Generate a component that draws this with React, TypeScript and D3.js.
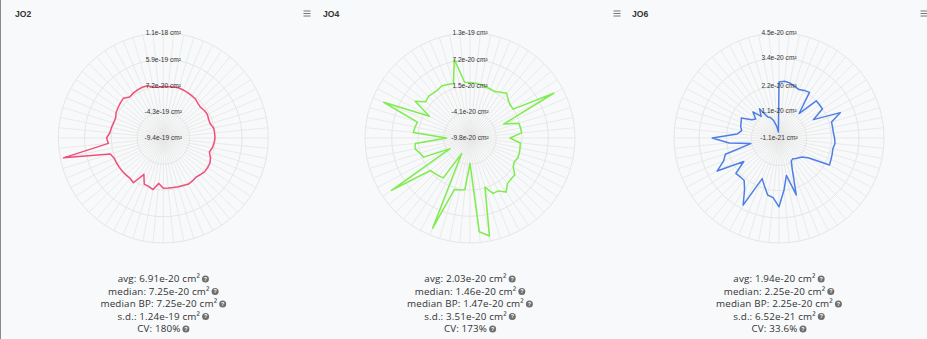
import React, { useEffect, useRef } from "react";
import * as d3 from "d3";

const WIDTH = 927;
const HEIGHT = 339;

// Values are in units of 1e-20 cm²
const UNIT = 1e-20;
const UNIT_LABEL = "cm²";

const TITLES = ["JO2", "JO4", "JO6"];
const COLORS = ["#ef5079", "#7fec4f", "#4f7fe6"];

const JO2_VALUES = [
  6.1, 6.1, 7.0, 8.0, 7.0, 6.1, 5.1, 4.1, 1.2, -0.4, 2.2, 3.1, 1.2, 1.2, 5.7, 6.1,
  6.4, 5.1, 3.1, -0.4, 5.1, 9.0, 9.6, 9.7, 7.0, 5.1, 7.0, 8.0, 6.1, 5.1, 4.1, 3.7,
  3.7, -5.4, 8.2, 4.1, 2.9, -14.0, 10.5, 7.6, 8.0, 8.4, 8.8, 9.0, 9.2, 13.8, 103.6, 13.2,
  16.2, 10.3, 8.8, 7.0, 6.3, 10.1, 11.9, 13.8, 15.4, 9.2, 10.9, 12.1, 12.7, 12.1, 7.0, 5.3,
];

const JO4_VALUES = [
  2.25, 2.16, 2.03, 1.82, 1.71, 1.64, 2.14, 2.75, 1.93, 1.51, 1.49, 10.81, -1.9, 1.27, 1.38, 1.49,
  -1.11, 1.17, 1.27, 1.38, 1.45, 1.1, 1.49, 2.79, 2.82, 3.01, 4.31, 3.23, 3.23, 1.36, 11.91, 10.65,
  -4.31, 1.49, 1.71, 1.86, 11.37, -6.02, 0.62, 0.84, 1.06, 1.32, 10.7, -4.91, 1.06, 1.56, 2.36, 2.14,
  -4.72, 2.58, 2.36, 2.14, 10.48, 0.19, 4.53, 2.62, 2.95, 2.79, 2.79, 3.08, 2.79, 2.58, 7.59, 2.38,
];

const JO6_VALUES = [
  2.35, 2.39, 2.35, 2.26, 2.19, 2.26, 2.3, 1.28, 2.2, 2.19, 2.18, 1.6, 2.8, 2.3, 2.29, 2.29,
  2.33, 2.36, 2.3, 2.33, 2.36, 2.4, 1.47, 1.21, 1.12, 1.05, 0.99, 1.03, 1.43, 2.5, 1.56, 2.17,
  2.91, 2.52, 2.44, 2.09, 1.82, 3.23, 2.61, 2.3, 2.3, 2.34, 1.75, 2.97, 2.52, 2.35, 1.15, 2.09,
  2.82, 1.73, 1.56, 1.65, 1.69, 1.76, 1.34, 1.21, 1.51, 1.12, 1.43, 0.94, 0.86, 0.68, 0.42, 0.15,
];

// Radial axis ticks (same units as the values)
const JO2_TICKS = [-94, -43, 7.2, 59, 110];
const JO4_TICKS = [-9.8, -4.1, 1.5, 7.2, 13];
const JO6_TICKS = [-0.11, 1.1, 2.2, 3.4, 4.5];

const SERIES = [JO2_VALUES, JO4_VALUES, JO6_VALUES];
const TICKS = [JO2_TICKS, JO4_TICKS, JO6_TICKS];

// Summary statistics shown under each chart
const STAT_NAMES = ["avg", "median", "median BP", "s.d.", "CV"];
const JO2_STATS = ["6.91e-20 cm²", "7.25e-20 cm²", "7.25e-20 cm²", "1.24e-19 cm²", "180%"];
const JO4_STATS = ["2.03e-20 cm²", "1.46e-20 cm²", "1.47e-20 cm²", "3.51e-20 cm²", "173%"];
const JO6_STATS = ["1.94e-20 cm²", "2.25e-20 cm²", "2.25e-20 cm²", "6.52e-21 cm²", "33.6%"];
const STATS = [JO2_STATS, JO4_STATS, JO6_STATS];

const PANEL_CX = [163.3, 470, 779];
const TITLE_X = [15, 323, 632];
const MENU_X = [303.5, 613.5, 920.5];
const CY = 138;
const R = 105;
const STAT_Y = [279, 291.5, 304, 316.5, 329];

const LABEL_FONT = '"Liberation Sans", Arial, sans-serif';
const STAT_FONT = '"Open Sans", "Noto Sans", sans-serif';

function fmtTick(v: number) {
  return `${(v * UNIT).toExponential(1)} ${UNIT_LABEL}`;
}

export default function App() {
  const ref = useRef<SVGSVGElement | null>(null);

  useEffect(() => {
    const svg = d3.select(ref.current);
    svg.selectAll("*").remove();

    svg.append("rect").attr("width", WIDTH).attr("height", HEIGHT).attr("fill", "#f8f9fa");
    svg.append("line")
      .attr("x1", 0.5).attr("x2", 0.5).attr("y1", 0).attr("y2", HEIGHT)
      .attr("stroke", "#8a8a8a").attr("stroke-width", 1);

    SERIES.forEach((values, k) => {
      const ticks = TICKS[k];
      const cx = PANEL_CX[k];
      const n = values.length;
      const categories = values.map((_, i) => i);

      const rScale = d3.scaleLinear().domain([ticks[0], ticks[ticks.length - 1]]).range([0, R]);
      const angle = d3.scaleLinear().domain([0, n]).range([0, 2 * Math.PI]);

      const g = svg.append("g").attr("transform", `translate(${cx},${CY})`);

      // spokes
      g.selectAll("line.spoke")
        .data(categories)
        .join("line")
        .attr("class", "spoke")
        .attr("x1", 0).attr("y1", 0)
        .attr("x2", (i) => R * Math.sin(angle(i)))
        .attr("y2", (i) => -R * Math.cos(angle(i)))
        .attr("stroke", "#e6e6e6")
        .attr("stroke-width", 0.8);

      // rings
      g.selectAll("circle.ring")
        .data(ticks.slice(1))
        .join("circle")
        .attr("class", "ring")
        .attr("r", (t) => rScale(t))
        .attr("fill", "none")
        .attr("stroke", "#e6e6e6")
        .attr("stroke-width", 1);

      // series line
      const line = d3.lineRadial<number>()
        .angle((_, i) => angle(i))
        .radius((d) => rScale(d))
        .curve(d3.curveLinearClosed);
      g.append("path")
        .attr("d", line(values) as string)
        .attr("fill", "none")
        .attr("stroke", COLORS[k])
        .attr("stroke-width", 1.5)
        .attr("stroke-linejoin", "round");

      // radial axis labels
      g.selectAll("text.tick")
        .data(ticks)
        .join("text")
        .attr("class", "tick")
        .attr("x", 0)
        .attr("y", (t) => -rScale(t))
        .attr("dy", "0.35em")
        .attr("text-anchor", "middle")
        .attr("font-family", LABEL_FONT)
        .attr("font-size", 6.6)
        .attr("fill", "#333")
        .text(fmtTick);

      // title
      svg.append("text")
        .attr("x", TITLE_X[k]).attr("y", 16.8)
        .attr("font-family", LABEL_FONT)
        .attr("font-weight", "bold")
        .attr("font-size", 8.6)
        .attr("fill", "#333")
        .text(TITLES[k]);

      // context menu icon
      const menu = svg.append("g").attr("transform", `translate(${MENU_X[k]},0)`);
      [11, 13.5, 16].forEach((y) => {
        menu.append("line")
          .attr("x1", 0).attr("x2", 7).attr("y1", y).attr("y2", y)
          .attr("stroke", "#777").attr("stroke-width", 1);
      });

      // statistics
      STAT_NAMES.forEach((name, j) => {
        const row = svg.append("g");
        const txt = row.append("text")
          .attr("x", 0).attr("y", STAT_Y[j]).attr("dy", "0.35em")
          .attr("font-family", STAT_FONT)
          .attr("font-size", 9.8)
          .attr("letter-spacing", 0.15)
          .attr("fill", "#333")
          .text(`${name}: ${STATS[k][j]}`);
        const w = (txt.node() as SVGTextElement).getComputedTextLength();
        const icon = row.append("g").attr("transform", `translate(${w + 5.5},${STAT_Y[j]})`);
        icon.append("circle").attr("r", 3.5).attr("fill", "#6e6e6e");
        icon.append("text")
          .attr("text-anchor", "middle").attr("dy", "0.36em")
          .attr("font-family", LABEL_FONT).attr("font-weight", "bold")
          .attr("font-size", 5.4).attr("fill", "#fff").text("?");
        const total = w + 9;
        row.attr("transform", `translate(${cx - total / 2},0)`);
      });
    });
  }, []);

  return (
    <svg
      ref={ref}
      width={WIDTH}
      height={HEIGHT}
      style={{ position: "absolute", left: 0, top: 0, display: "block" }}
    />
  );
}
